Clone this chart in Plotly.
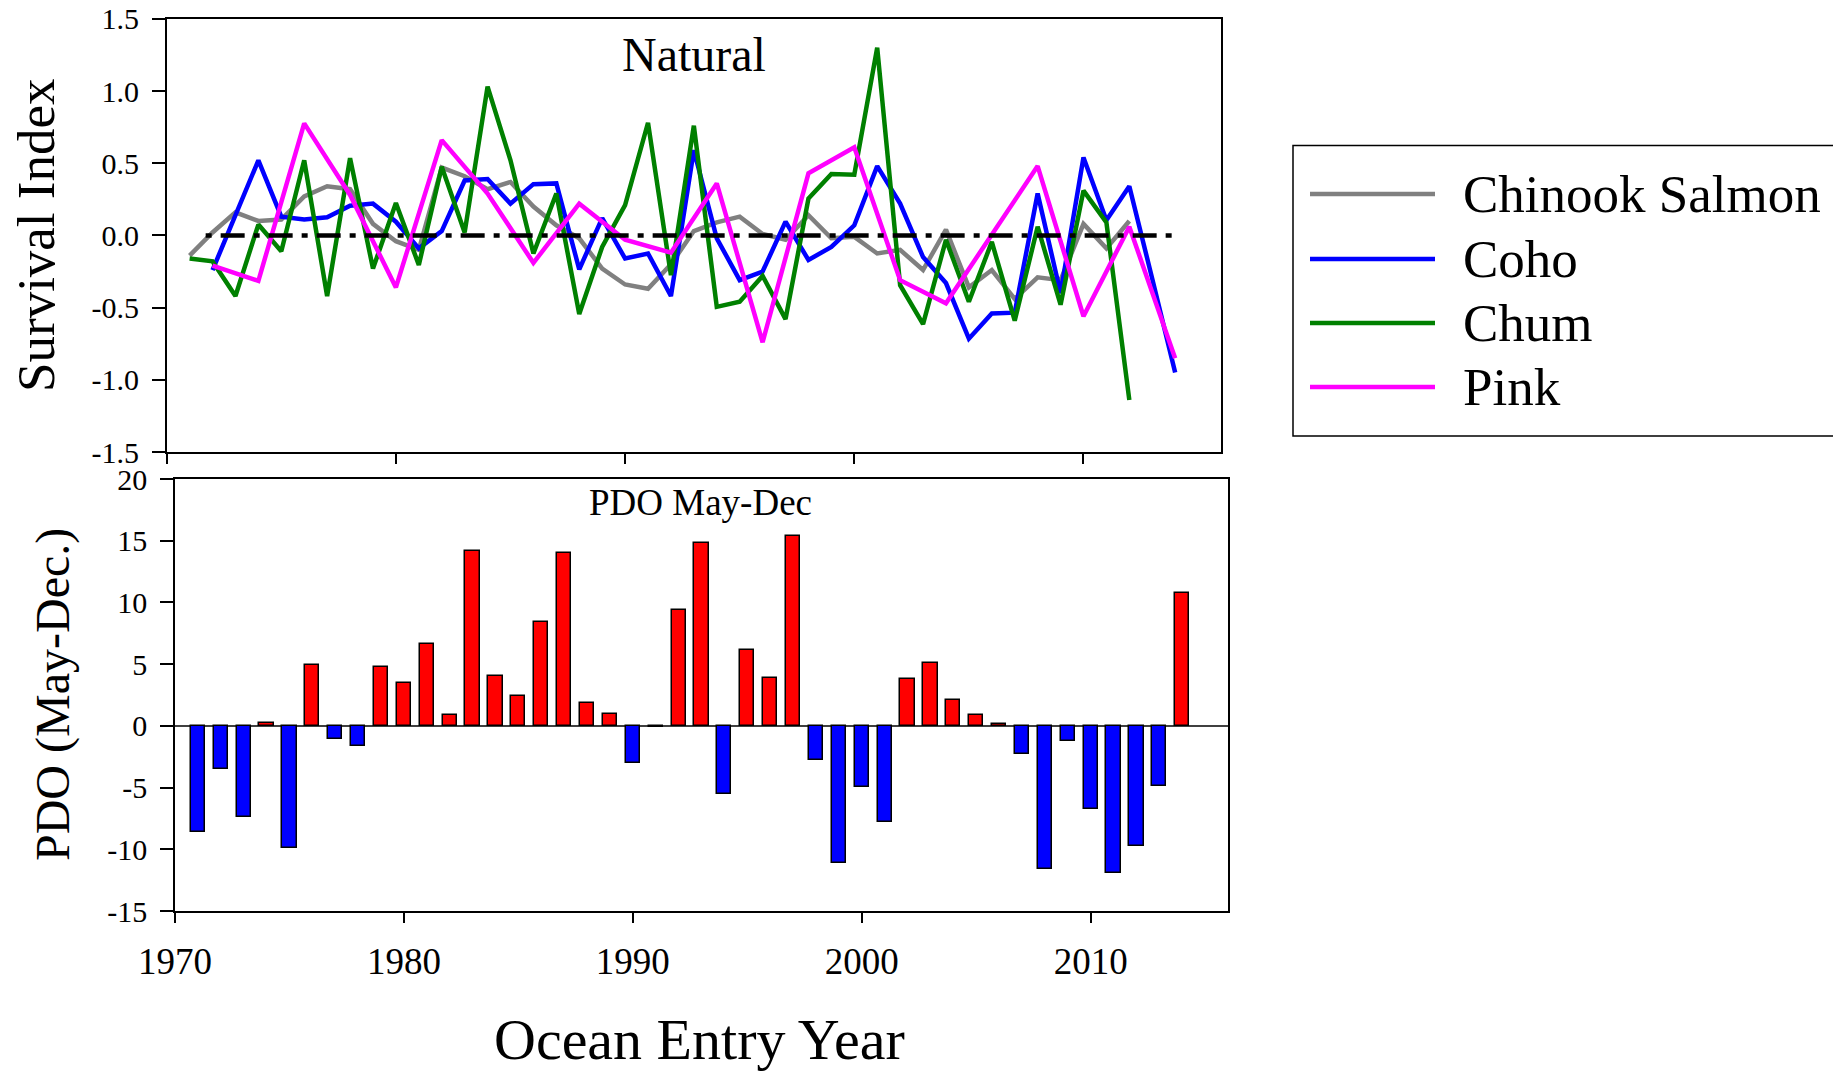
import plotly.graph_objects as go

W, H = 1841, 1071
OFF = 8  # page body margin of the browser
FONT = "Liberation Serif, Times New Roman, serif"

# ---------------- data ----------------
chinook_years = list(range(1971, 2013))
chinook = [-0.14, 0.02, 0.16, 0.10, 0.11, 0.27, 0.34, 0.32, 0.08, -0.04,
           -0.10, 0.47, 0.41, 0.32, 0.37, 0.20, 0.07, -0.02, -0.23, -0.34,
           -0.37, -0.20, 0.03, 0.09, 0.13, 0.01, -0.03, 0.14, -0.02, -0.01,
           -0.125, -0.10, -0.24, 0.04, -0.36, -0.24, -0.44, -0.29, -0.31, 0.08,
           -0.09, 0.10]

coho_years = list(range(1972, 2015))
coho = [-0.24, 0.14, 0.52, 0.13, 0.11, 0.125, 0.205, 0.22, 0.095, -0.09,
        0.03, 0.38, 0.39, 0.22, 0.355, 0.36, -0.235, 0.12, -0.16, -0.125,
        -0.42, 0.59, -0.02, -0.31, -0.25, 0.095, -0.17, -0.08, 0.07, 0.48,
        0.22, -0.15, -0.33, -0.715, -0.54, -0.535, 0.29, -0.40, 0.54, 0.105,
        0.34, -0.30, -0.95]

chum_years = list(range(1971, 2013))
chum = [-0.16, -0.18, -0.42, 0.075, -0.11, 0.52, -0.42, 0.535, -0.23, 0.225,
        -0.205, 0.475, 0.02, 1.03, 0.52, -0.125, 0.29, -0.545, -0.08, 0.21,
        0.78, -0.275, 0.76, -0.495, -0.46, -0.28, -0.58, 0.255, 0.425, 0.42,
        1.30, -0.345, -0.615, -0.03, -0.46, -0.045, -0.59, 0.06, -0.48, 0.31,
        0.09, -1.14]

pink_years = list(range(1972, 2015, 2))
pink = [-0.21, -0.315, 0.776, 0.28, -0.36, 0.66, 0.29, -0.19, 0.22, -0.03,
        -0.12, 0.36, -0.74, 0.43, 0.61, -0.31, -0.47, 0.0, 0.48, -0.56,
        0.06, -0.85]

zero_line_years = [1971.7, 2014.1]
zero_line_vals = [0.0, 0.0]

pdo_years = list(range(1971, 2015))
pdo = [-8.6, -3.5, -7.4, 0.25, -9.9, 4.97, -1.03, -1.62, 4.75, 3.48,
       6.6, 0.84, 14.15, 4.05, 2.43, 8.43, 14.0, 1.86, 0.95, -3.0,
       -0.1, 9.37, 14.83, -5.48, 6.18, 3.89, 15.37, -2.75, -11.1, -4.94,
       -7.78, 3.78, 5.13, 2.08, 0.86, 0.13, -2.24, -11.56, -1.22, -6.7,
       -11.96, -9.72, -4.89, 10.8]

series_names = ["Chinook Salmon", "Coho", "Chum", "Pink"]
series_colors = ["#808080", "#0000FF", "#008000", "#FF00FF"]

top_yticks = [-1.5, -1.0, -0.5, 0.0, 0.5, 1.0, 1.5]
top_yticktext = ["-1.5", "-1.0", "-0.5", "0.0", "0.5", "1.0", "1.5"]
bot_yticks = [-15, -10, -5, 0, 5, 10, 15, 20]
bot_yticktext = ["-15", "-10", "-5", "0", "5", "10", "15", "20"]
xticks = [1970, 1980, 1990, 2000, 2010]
xticktext = ["1970", "1980", "1990", "2000", "2010"]


def px(x):
    return (x - OFF) / W


def py(y):
    return 1 - (y - OFF) / H


fig = go.Figure()

series = [(chinook_years, chinook), (coho_years, coho),
          (chum_years, chum), (pink_years, pink)]
for (xs, ys), name, col in zip(series, series_names, series_colors):
    fig.add_trace(go.Scatter(x=xs, y=ys, mode="lines", name=name,
                             line=dict(color=col, width=4.5),
                             xaxis="x", yaxis="y", showlegend=False))

fig.add_trace(go.Scatter(x=zero_line_years, y=zero_line_vals, mode="lines",
                         line=dict(color="black", width=4.5,
                                   dash="6px,9px,24px,9px"),
                         xaxis="x", yaxis="y", showlegend=False))

bar_colors = ["#FF0000" if v >= 0 else "#0000FF" for v in pdo]
fig.add_trace(go.Bar(x=pdo_years, y=pdo, width=0.62,
                     marker=dict(color=bar_colors,
                                 line=dict(color="black", width=1.5)),
                     xaxis="x2", yaxis="y2", showlegend=False))

axis_common = dict(showline=True, linecolor="black", linewidth=1.5,
                   mirror=True, showgrid=False, ticks="outside",
                   tickcolor="black", tickwidth=1.5, automargin=False,
                   ticklabeloverflow="allow",
                   tickfont=dict(family=FONT, size=30, color="black"))

fig.update_layout(
    width=W, height=H,
    margin=dict(l=0, r=0, t=0, b=0),
    paper_bgcolor="white", plot_bgcolor="white",
    showlegend=False,
    bargap=0,
    xaxis=dict(domain=[px(166.7), px(1221)], range=[1970, 2016],
               anchor="y", tickvals=xticks, showticklabels=False,
               ticklen=10, zeroline=False, **axis_common),
    yaxis=dict(domain=[py(452), py(18.8)], range=[-1.5, 1.5],
               anchor="x", tickvals=top_yticks, ticktext=top_yticktext,
               ticklen=13, zeroline=False, ticklabelstandoff=7,
               **axis_common),
    xaxis2=dict(domain=[px(175), px(1228)], range=[1970, 2016],
                anchor="y2", tickvals=xticks, ticktext=xticktext,
                ticklen=10, zeroline=False, ticklabelstandoff=7,
                **{**axis_common,
                   "tickfont": dict(family=FONT, size=37, color="black")}),
    yaxis2=dict(domain=[py(911), py(479)], range=[-15, 20],
                anchor="x2", tickvals=bot_yticks, ticktext=bot_yticktext,
                ticklen=13, zeroline=True, zerolinecolor="#404040",
                zerolinewidth=1.5, ticklabelstandoff=7, **axis_common),
)

annos = [
    dict(text="Natural", x=px(693.5), y=py(55), size=48, angle=0),
    dict(text="PDO May-Dec", x=px(700.5), y=py(502.5), size=37, angle=0),
    dict(text="Ocean Entry Year", x=px(699), y=py(1039), size=58, angle=0),
    dict(text="Survival Index", x=px(36), y=py(235), size=53, angle=-90),
    dict(text="PDO (May-Dec.)", x=px(53), y=py(695), size=48, angle=-90),
]
for a in annos:
    fig.add_annotation(text=a["text"], x=a["x"], y=a["y"], xref="paper",
                       yref="paper", showarrow=False, xanchor="center",
                       yanchor="middle", textangle=a["angle"],
                       font=dict(family=FONT, size=a["size"], color="black"))

# manual legend (long line samples, large text)
fig.add_shape(type="rect", xref="paper", yref="paper",
              x0=px(1293), x1=px(1860), y0=py(436), y1=py(145.6),
              line=dict(color="black", width=1.5), fillcolor="rgba(0,0,0,0)")
legend_rows = [194, 259, 323, 387]
for name, col, ry in zip(series_names, series_colors, legend_rows):
    fig.add_shape(type="line", xref="paper", yref="paper",
                  x0=px(1310), x1=px(1435), y0=py(ry), y1=py(ry),
                  line=dict(color=col, width=4.5))
    fig.add_annotation(text=name, x=px(1461), y=py(ry), xref="paper",
                       yref="paper", showarrow=False, xanchor="left",
                       yanchor="middle",
                       font=dict(family=FONT, size=53, color="black"))

fig.write_html("out.html")
